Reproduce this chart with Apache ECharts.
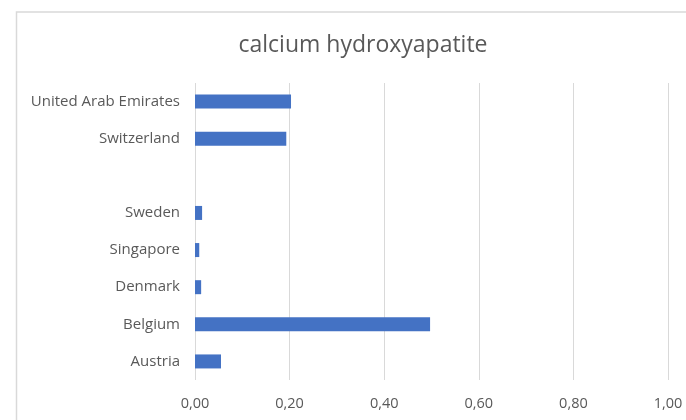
<!DOCTYPE html>
<html>
<head>
<meta charset="utf-8">
<script src="https://cdn.jsdelivr.net/npm/echarts@6/dist/echarts.min.js"></script>
<style>
  html, body { margin: 0; padding: 0; background: #fff; }
  #chart { width: 686px; height: 420px; }
</style>
</head>
<body>
<div id="chart"></div>
<script>
// categories bottom to top, one blank slot as in the source sheet
const countries = ['Austria', 'Belgium', 'Denmark', 'Singapore', 'Sweden', '', 'Switzerland', 'United Arab Emirates']
const values = [0.055, 0.497, 0.013, 0.009, 0.015, null, 0.193, 0.203]
const xTicks = [0, 0.2, 0.4, 0.6, 0.8, 1.0]

const chart = echarts.init(document.getElementById('chart'))

const option = {
  animation: false,
  title: {
    text: 'calcium hydroxyapatite',
    left: 358,
    top: 29,
    textAlign: 'center',
    textStyle: {
      fontFamily: 'Open Sans',
      fontWeight: 'normal',
      fontSize: 23,
      color: '#595959'
    }
  },
  graphic: [
    {
      type: 'polyline',
      shape: { points: [[16.5, 420], [16.5, 12], [686, 12]] },
      style: { stroke: '#d9d9d9', lineWidth: 1.5, fill: null }
    }
  ],
  grid: {
    left: 195,
    right: 18,
    top: 83,
    bottom: 40
  },
  xAxis: {
    type: 'value',
    min: xTicks[0],
    max: xTicks[xTicks.length - 1],
    interval: 0.2,
    axisLine: { show: false },
    axisTick: { show: false },
    splitLine: { lineStyle: { color: '#d9d9d9', width: 1 } },
    axisLabel: {
      margin: 16,
      fontFamily: 'Open Sans',
      fontSize: 14.5,
      color: '#595959',
      formatter: (v) => v.toFixed(2).replace('.', ',')
    }
  },
  yAxis: {
    type: 'category',
    data: countries,
    axisLine: { show: false },
    axisTick: { show: false },
    axisLabel: {
      margin: 15,
      fontFamily: 'Open Sans',
      fontSize: 15,
      color: '#595959'
    }
  },
  series: [
    {
      type: 'bar',
      data: values,
      barWidth: 14,
      itemStyle: { color: '#4472c4' }
    }
  ]
}

chart.setOption(option)
</script>
</body>
</html>
